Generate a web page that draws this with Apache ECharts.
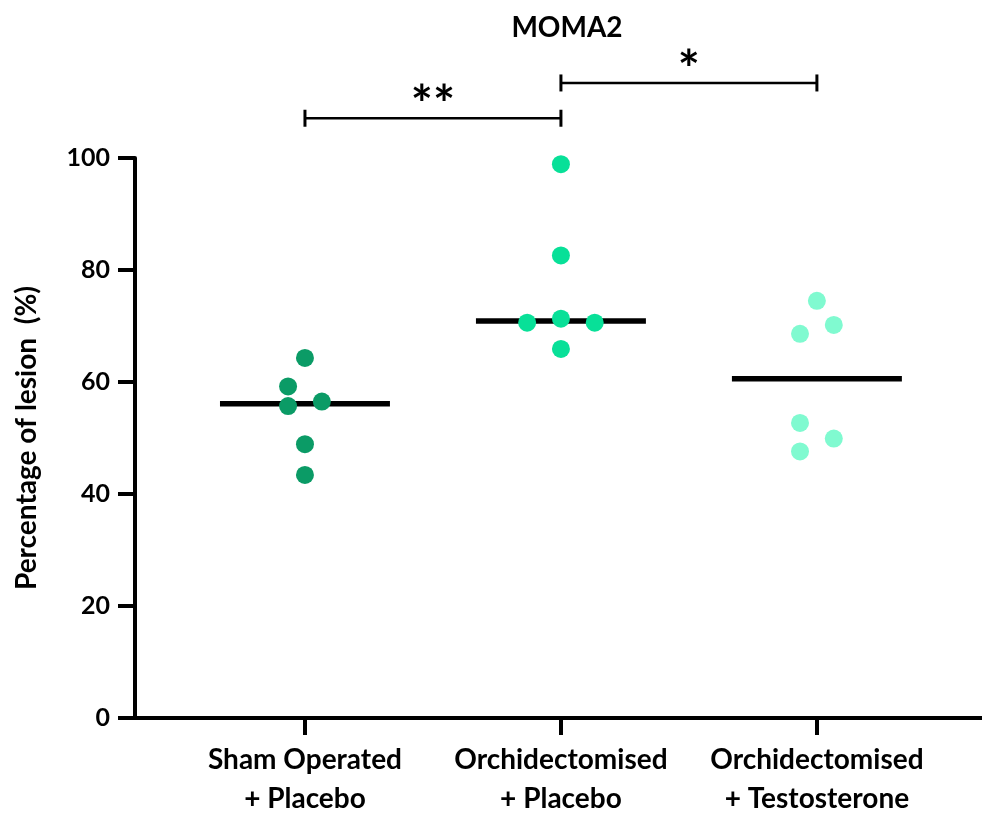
<!DOCTYPE html>
<html>
<head>
<meta charset="utf-8">
<script src="https://cdn.jsdelivr.net/npm/echarts@6/dist/echarts.min.js"></script>
<style>html,body{margin:0;padding:0;background:#fff}#c{width:982px;height:815px}</style>
</head>
<body>
<div id="c"></div>
<script>
const categories = ['Sham Operated\n+ Placebo', 'Orchidectomised\n+ Placebo', 'Orchidectomised\n+ Testosterone'];
const shamPlacebo = [64.3, 59.2, 55.7, 56.5, 48.9, 43.4];
const shamJitter = [0, -1, -1, 1, 0, 0];
const orchPlacebo = [98.9, 82.6, 70.6, 71.3, 70.6, 65.9];
const orchJitter = [0, 0, -2, 0, 2, 0];
const orchTesto = [74.5, 70.2, 68.6, 52.7, 49.9, 47.6];
const testoJitter = [0, 1, -1, -1, 1, -1];
const medians = [56.1, 70.9, 60.6];
const sigFrom = [0, 1];
const sigTo = [1, 2];
const sigLevel = [107.1, 113.4];
const sigLabels = ['**', '*'];
const yTicks = [0, 20, 40, 60, 80, 100];

const JIT = 0.066, HALF = 0.332;
const FONT = 'Lato, "Open Sans", sans-serif';
const colors = ['#0B9B66', '#08E098', '#80FAD0'];
const groups = [shamPlacebo, orchPlacebo, orchTesto];
const jitters = [shamJitter, orchJitter, testoJitter];

const chart = echarts.init(document.getElementById('c'));
const series = [];
series.push({
  type: 'custom', z: 2, clip: false,
  data: medians.map((m, i) => [i, m]),
  renderItem: (params, api) => {
    const a = api.coord([api.value(0) - HALF, api.value(1)]);
    const b = api.coord([api.value(0) + HALF, api.value(1)]);
    return {type: 'line', shape: {x1: a[0], y1: a[1], x2: b[0], y2: b[1]}, style: {stroke: '#000', lineWidth: 5.5}};
  }
});
groups.forEach((g, gi) => {
  series.push({
    type: 'scatter', z: 3, symbolSize: 18,
    itemStyle: {color: colors[gi], opacity: 1},
    data: g.map((v, k) => [gi + jitters[gi][k] * JIT, v])
  });
});
series.push({
  type: 'custom', z: 4, clip: false,
  data: sigFrom.map((f, i) => [f, sigTo[i], sigLevel[i]]),
  renderItem: (params, api) => {
    const a = api.coord([api.value(0), api.value(2)]);
    const b = api.coord([api.value(1), api.value(2)]);
    const st = {stroke: '#000', lineWidth: 2.5};
    const cs = {stroke: '#000', lineWidth: 3};
    return {type: 'group', children: [
      {type: 'line', shape: {x1: a[0], y1: a[1], x2: b[0], y2: b[1]}, style: st},
      {type: 'line', shape: {x1: a[0], y1: a[1] - 8.5, x2: a[0], y2: a[1] + 8.5}, style: cs},
      {type: 'line', shape: {x1: b[0], y1: b[1] - 8.5, x2: b[0], y2: b[1] + 8.5}, style: cs},
      {type: 'text', x: (a[0] + b[0]) / 2, y: a[1] - 12, style: {text: sigLabels[params.dataIndex], fill: '#000', font: 'bold 52px ' + FONT, textAlign: 'center', textVerticalAlign: 'middle'}}
    ]};
  }
});

chart.setOption({
  animation: false,
  backgroundColor: '#fff',
  title: {text: 'MOMA2', left: 562, textAlign: 'center', top: 9, textStyle: {fontFamily: FONT, fontWeight: 'bold', fontSize: 28, color: '#000'}},
  grid: {left: 135, right: 0, top: 158, bottom: 97, outerBoundsMode: 'none', containLabel: false},
  xAxis: {
    type: 'value', min: -0.664, max: 2.645,
    splitLine: {show: false},
    axisLine: {show: true, onZero: false, lineStyle: {color: '#000', width: 4}},
    axisTick: {show: true, customValues: [0, 1, 2], length: 17, lineStyle: {color: '#000', width: 4}},
    axisLabel: {customValues: [0, 1, 2], formatter: v => categories[Math.round(v)], margin: 22, color: '#000', fontFamily: FONT, fontWeight: 'bold', fontSize: 28, lineHeight: 39}
  },
  yAxis: {
    type: 'value', min: 0, max: 100, interval: 20,
    name: 'Percentage of lesion  (%)', nameLocation: 'middle', nameRotate: 90, nameGap: 94,
    nameTextStyle: {color: '#000', fontFamily: FONT, fontWeight: 'bold', fontSize: 28},
    splitLine: {show: false},
    axisLine: {show: true, onZero: false, lineStyle: {color: '#000', width: 4}},
    axisTick: {show: true, length: 17, lineStyle: {color: '#000', width: 4}},
    axisLabel: {margin: 25, color: '#000', fontFamily: FONT, fontWeight: 'bold', fontSize: 25, customValues: yTicks}
  },
  series: series
});
</script>
</body>
</html>
